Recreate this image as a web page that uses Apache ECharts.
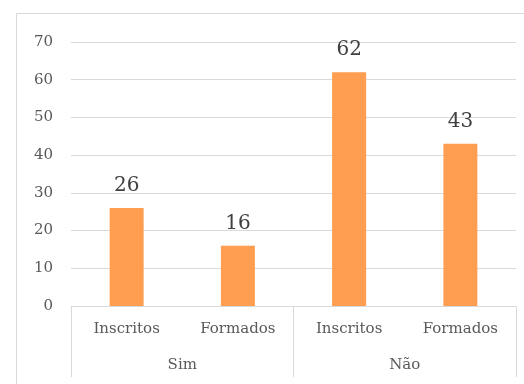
<!DOCTYPE html>
<html><head><meta charset="utf-8">
<script src="https://cdn.jsdelivr.net/npm/echarts@6/dist/echarts.min.js"></script>
<style>html,body{margin:0;padding:0;background:#fff}#c{width:524px;height:384px}</style>
</head><body><div id="c"></div>
<script>
const categories = ['Inscritos', 'Formados', 'Inscritos', 'Formados'];
const groups = ['Sim', 'Não'];
const values = [26, 16, 62, 43];
const yTicks = [0, 70, 10];

const FONT = 'DejaVu Serif';
const chart = echarts.init(document.getElementById('c'), null, {renderer: 'canvas'});
chart.setOption({
  animation: false,
  backgroundColor: '#ffffff',
  graphic: [{
    type: 'rect', shape: {x: 16.5, y: 13.5, width: 520, height: 400},
    style: {fill: 'none', stroke: '#D9D9D9', lineWidth: 1}, silent: true, z: -1
  }],
  grid: {left: 71, right: 8, top: 42, bottom: 78, containLabel: false},
  xAxis: [{
    type: 'category', data: categories, position: 'bottom',
    axisLine: {show: true, lineStyle: {color: '#D9D9D9', width: 1}},
    axisTick: {show: false},
    axisLabel: {color: '#595959', fontFamily: FONT, fontSize: 15, margin: 16, interval: 0}
  }, {
    type: 'category', data: groups, position: 'bottom',
    axisLine: {show: false},
    axisTick: {show: true, length: 71, lineStyle: {color: '#D9D9D9', width: 1}},
    axisLabel: {color: '#595959', fontFamily: FONT, fontSize: 15, margin: 52, interval: 0}
  }],
  yAxis: {
    type: 'value', min: yTicks[0], max: yTicks[1], interval: yTicks[2],
    axisLine: {show: false}, axisTick: {show: false},
    axisLabel: {color: '#595959', fontFamily: FONT, fontSize: 15, margin: 18},
    splitLine: {lineStyle: {color: '#D9D9D9', width: 1}}
  },
  series: [{
    type: 'bar', data: values, xAxisIndex: 0, barWidth: 34,
    itemStyle: {color: '#FF9D50'},
    label: {show: true, position: 'top', distance: 12, color: '#404040', fontFamily: FONT, fontSize: 20}
  }]
});
</script></body></html>
